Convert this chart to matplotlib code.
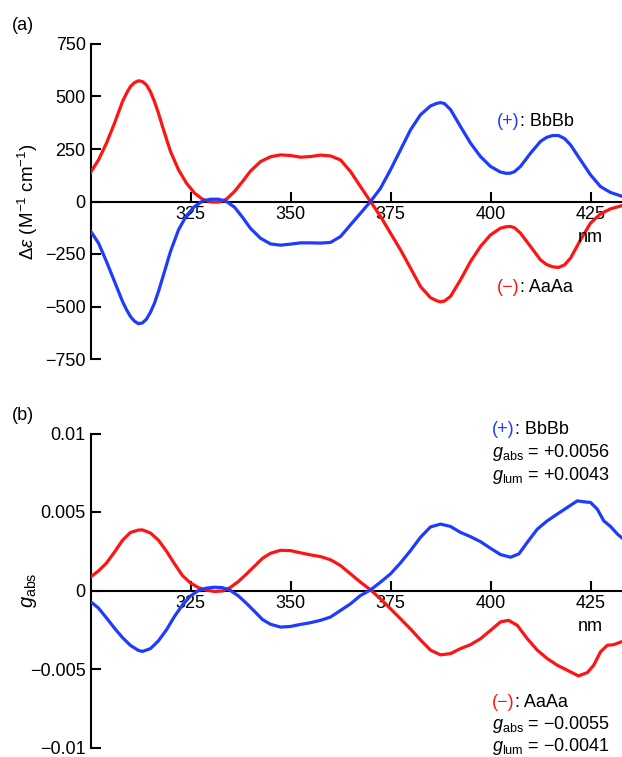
import matplotlib
matplotlib.use("Agg")
import matplotlib.pyplot as plt

plt.rcParams['font.family'] = ['Liberation Sans', 'DejaVu Sans']
plt.rcParams['mathtext.fontset'] = 'custom'
plt.rcParams['mathtext.rm'] = 'Liberation Sans'
plt.rcParams['mathtext.it'] = 'Liberation Sans:italic'
plt.rcParams['mathtext.bf'] = 'Liberation Sans:bold'

# ---------------- data ----------------
cd_nm = [300, 302, 304, 306, 308, 309, 310, 311, 312, 313, 314, 315, 316, 317, 318,
         320, 322, 324, 326, 328, 330, 332, 334, 336, 338, 340,
         342.5, 345, 347.5, 350, 352.5, 355, 357.5, 360, 362.5, 365, 367.5, 370, 372.5,
         375, 377.5, 380, 382.5, 385, 386.5, 387.5, 388.5, 390, 392.5, 395, 397.5, 400,
         402.5, 404, 405, 406, 407.5, 410, 412.5, 414, 415.5, 417, 418.5, 420,
         422.5, 425, 427.5, 430, 433]
cd_AaAa = [138, 198, 278, 373, 476, 515, 548, 566, 575, 571, 555, 522, 476, 420, 357,
           238, 151, 87, 40, 11, -2, -3, 11, 48, 95, 145,
           190, 213, 222, 219, 211, 214, 221, 217, 198, 143, 71, 0, -71,
           -151, -230, -317, -405, -458, -472, -478, -474, -452, -373, -286, -214, -159,
           -127, -120, -119, -125, -151, -214, -278, -300, -311, -314, -302, -270,
           -183, -103, -59, -35, -19]
cd_BbBb = [-140, -198, -286, -381, -476, -515, -548, -570, -582, -578, -560, -527, -484, -428, -365,
           -238, -135, -67, -24, 2, 11, 11, 0, -27, -75, -128,
           -175, -202, -208, -203, -197, -197, -198, -195, -167, -111, -56, 0, 63,
           151, 246, 341, 413, 455, 467, 471, 466, 438, 357, 278, 214, 167,
           140, 134, 135, 142, 167, 230, 286, 305, 314, 314, 300, 270,
           198, 127, 71, 43, 24]

g_nm_AaAa = [300, 302, 304, 306, 308, 310, 312, 313, 315, 317, 319, 321, 323, 325, 327, 329,
             331, 333, 335, 337, 339, 341, 343, 345, 347.5, 350, 352.5, 355, 357.5, 360,
             362.5, 365, 367.5, 370, 372.5, 375, 377.5, 380, 382.5, 385, 387.5, 390, 392.5,
             395, 397.5, 400, 402.5, 404.5, 406.7, 409.2, 411.7, 414.2, 416.7, 419.2, 422,
             424.2, 425.8, 427.5, 429.2, 430.8, 433]
g_AaAa = [0.00085, 0.00125, 0.00175, 0.00245, 0.0032, 0.0037, 0.00385, 0.00386, 0.00366,
          0.0032, 0.0025, 0.0017, 0.00095, 0.00048, 0.00018, 0.00002, -0.00006, -0.00003,
          0.0002, 0.00058, 0.00105, 0.00155, 0.00205, 0.00237, 0.00256, 0.00254, 0.0024,
          0.00227, 0.00216, 0.00196, 0.00159, 0.00106, 0.00053, 0.00004, -0.00053, -0.00116,
          -0.0018, -0.00245, -0.00315, -0.0038, -0.0041, -0.00402, -0.0037, -0.00345,
          -0.00307, -0.00254, -0.002, -0.0019, -0.00222, -0.00307, -0.0038, -0.00434,
          -0.00476, -0.00508, -0.00544, -0.00523, -0.00476, -0.00391, -0.00349, -0.00345,
          -0.00324]

g_nm_BbBb = [300, 302, 304, 306, 308, 310, 312, 313, 315, 317, 319, 321, 323, 325, 327, 329,
             331, 333, 335, 337, 339, 341, 343, 345, 347.5, 350, 352.5, 355, 357.5, 360,
             362.5, 365, 367.5, 370, 372.5, 375, 377.5, 380, 382.5, 385, 387.5, 390, 392.5,
             395, 397.5, 400, 402.5, 405, 407.1, 409.2, 411.7, 414.2, 416.7, 419.2, 421.7,
             423.3, 425, 426.7, 428.3, 430, 431.7, 433]
g_BbBb = [-0.0007, -0.00112, -0.00175, -0.0024, -0.003, -0.0035, -0.00382, -0.00388, -0.0037,
          -0.0032, -0.0025, -0.00165, -0.00092, -0.00035, 0.0, 0.00015, 0.00021, 0.00018,
          0.0, -0.00035, -0.00082, -0.00133, -0.00185, -0.00215, -0.00233, -0.00229, -0.00216,
          -0.00205, -0.0019, -0.00169, -0.00127, -0.00085, -0.00032, 0.00004, 0.00053, 0.00106,
          0.00176, 0.00254, 0.00339, 0.00405, 0.00423, 0.00408, 0.0037, 0.00343, 0.00311,
          0.00269, 0.00229, 0.00212, 0.00233, 0.00307, 0.00391, 0.00444, 0.00487, 0.00529,
          0.00571, 0.00565, 0.00561, 0.00518, 0.00444, 0.00408, 0.0036, 0.00332]

x_ticks = [325, 350, 375, 400, 425]
cd_ticks = [-750, -500, -250, 0, 250, 500, 750]
cd_labels = ['\u2212750', '\u2212500', '\u2212250', '0', '250', '500', '750']
g_ticks = [-0.01, -0.005, 0, 0.005, 0.01]
g_labels = ['\u22120.01', '\u22120.005', '0', '0.005', '0.01']

RED = '#ff1414'
BLUE = '#1e3cff'
MINUS = '\u2212'
FS = 13

W, H = 622, 757
fig = plt.figure(figsize=(W / 100, H / 100), dpi=100)

L = 90.5 / W
AW = 532 / W
ax1 = fig.add_axes([L, 1 - 359 / H, AW, (359 - 44) / H])
ax2 = fig.add_axes([L, 1 - 747.5 / H, AW, (747.5 - 433.5) / H])

for ax in (ax1, ax2):
    ax.patch.set_visible(False)
    for s in ('top', 'right'):
        ax.spines[s].set_visible(False)
    ax.spines['bottom'].set_position(('data', 0))
    for s in ('left', 'bottom'):
        ax.spines[s].set_linewidth(1.5)
    ax.set_xlim(300, 433)
    ax.set_xticks(x_ticks)
    ax.tick_params(axis='both', direction='in', length=7, width=1.5, labelsize=FS)
    ax.tick_params(axis='y', pad=3.5)
    ax.tick_params(axis='x', pad=3.5)

ax1.plot(cd_nm, cd_AaAa, color=RED, lw=2.3, zorder=3)
ax1.plot(cd_nm, cd_BbBb, color=BLUE, lw=2.3, zorder=3)
ax1.set_ylim(-750, 750)
ax1.set_yticks(cd_ticks, labels=cd_labels)
ax1.set_ylabel(r'$\mathit{\Delta\varepsilon}$ (M$^{-1}$ cm$^{-1}$)', fontsize=13.5)
ax1.yaxis.set_label_coords(-0.095, 0.5)

ax2.plot(g_nm_AaAa, g_AaAa, color=RED, lw=2.3, zorder=3)
ax2.plot(g_nm_BbBb, g_BbBb, color=BLUE, lw=2.3, zorder=3)
ax2.set_ylim(-0.01, 0.01)
ax2.set_yticks(g_ticks, labels=g_labels)
ax2.set_ylabel(r'$\mathit{g}_{\mathrm{abs}}$', fontsize=14.5)
ax2.yaxis.set_label_coords(-0.097, 0.5)

for ax in (ax1, ax2):
    ax.annotate('nm', xy=(425, 0), xytext=(0, -29), textcoords='offset points',
                ha='center', va='baseline', fontsize=FS)


def fx(px):
    return px / W


def fy(py):
    return 1 - py / H


def two_color(x, y, first, color, rest, size=FS):
    t1 = fig.text(fx(x), fy(y), first, color=color, fontsize=size, ha='left', va='baseline')
    ann = matplotlib.text.Annotation(rest, xy=(1, 0), xycoords=t1, ha='left', va='bottom',
                                     fontsize=size, color='black')
    fig.add_artist(ann)
    return t1


fig.text(fx(12), fy(30), '(a)', fontsize=FS, va='baseline', ha='left')
fig.text(fx(12), fy(420), '(b)', fontsize=FS, va='baseline', ha='left')

two_color(497, 126, '(+)', BLUE, ': BbBb')
two_color(497, 292, '(' + MINUS + ')', RED, ': AaAa')

two_color(492, 434, '(+)', BLUE, ': BbBb')
fig.text(fx(492), fy(457), r'$\mathit{g}_{\mathrm{abs}}$ = +0.0056', fontsize=FS, va='baseline')
fig.text(fx(492), fy(479.5), r'$\mathit{g}_{\mathrm{lum}}$ = +0.0043', fontsize=FS, va='baseline')

two_color(492, 707, '(' + MINUS + ')', RED, ': AaAa')
fig.text(fx(492), fy(729), r'$\mathit{g}_{\mathrm{abs}}$ = ' + MINUS + '0.0055', fontsize=FS, va='baseline')
fig.text(fx(492), fy(751), r'$\mathit{g}_{\mathrm{lum}}$ = ' + MINUS + '0.0041', fontsize=FS, va='baseline')

fig.savefig('out.png', dpi=100)
